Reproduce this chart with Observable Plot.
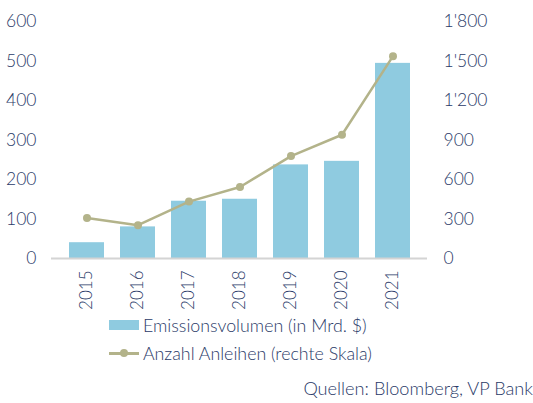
<!DOCTYPE html>
<html>
<head>
<meta charset="utf-8">
<script src="https://cdn.jsdelivr.net/npm/d3@7"></script>
<script src="https://cdn.jsdelivr.net/npm/@observablehq/plot@0.6"></script>
<style>
  html, body { margin: 0; padding: 0; background: #fff; }
  body { width: 533px; height: 403px; overflow: hidden; font-family: Lato, "Open Sans", sans-serif; font-weight: 300; color: #2a3a68; }
  #chart svg { display: block; }
  #chart svg text { font-weight: 300; }
  .legend { position: absolute; left: 109px; top: 311px; font-size: 17.8px; }
  .legend .row { display: flex; align-items: center; height: 28px; }
  .legend .sw { width: 30px; height: 10px; margin-right: 4px; }
  .legend .ln { width: 30px; height: 10px; margin-right: 4px; position: relative; }
  .legend .ln::before { content: ""; position: absolute; left: 0; right: 0; top: 4px; height: 2.5px; background: #b3b38a; }
  .legend .ln::after { content: ""; position: absolute; left: 11px; top: 1px; width: 8px; height: 8px; border-radius: 50%; background: #b3b38a; }
  .source { position: absolute; right: 0; top: 377px; font-size: 18.2px; }
</style>
</head>
<body>
<div id="chart"></div>
<div class="legend">
  <div class="row"><span class="sw" style="background:#8fcbe0"></span>Emissionsvolumen (in Mrd. $)</div>
  <div class="row"><span class="ln"></span>Anzahl Anleihen (rechte Skala)</div>
</div>
<div class="source">Quellen: Bloomberg, VP Bank</div>
<script>
"use strict";
const years = ["2015", "2016", "2017", "2018", "2019", "2020", "2021"];
const volume = [40, 80, 145, 150, 237, 246, 494];      // Mrd. $, left axis
const bonds = [308, 253, 432, 543, 778, 940, 1537];     // count, right axis
const leftTicks = [0, 100, 200, 300, 400, 500, 600];
const rightTicks = [0, 300, 600, 900, 1200, 1500, 1800];

const BAR = "#8fcbe0";
const LINE = "#b3b38a";
const TEXT = "#2a3a68";
const RATIO = 3; // right axis units per left axis unit

const swiss = d3.formatLocale({ decimal: ".", thousands: "'", grouping: [3], currency: ["", ""] }).format(",");

const rows = years.map((y, i) => ({ year: y, volume: volume[i], bonds: bonds[i] }));

const chart = Plot.plot({
  width: 533, height: 312,
  marginTop: 21, marginLeft: 51, marginRight: 106, marginBottom: 54,
  style: { fontFamily: "Lato, 'Open Sans', sans-serif", fontSize: "17.5px", color: TEXT, background: "#fff" },
  x: { domain: years, padding: 0.32, label: null },
  y: { domain: [0, 600], label: null },
  marks: [
    Plot.barY(rows, { x: "year", y: "volume", fill: BAR }),
    Plot.ruleY([0], { stroke: "#d4d4d4", strokeWidth: 2 }),
    Plot.line(rows, { x: "year", y: (d) => d.bonds / RATIO, stroke: LINE, strokeWidth: 2.5 }),
    Plot.dot(rows, { x: "year", y: (d) => d.bonds / RATIO, fill: LINE, r: 4 }),
    Plot.axisX({ tickSize: 0, tickRotate: -90, tickPadding: 12, fontSize: 17, label: null }),
    Plot.axisY({ anchor: "left", ticks: leftTicks, tickSize: 0, tickPadding: 15, label: null }),
    Plot.axisY({ anchor: "right", ticks: rightTicks.map((t) => t / RATIO), tickSize: 0, tickPadding: 16,
      tickFormat: (d) => swiss(Math.round(d * RATIO)), label: null }),
  ],
});
document.getElementById("chart").appendChild(chart);
</script>
</body>
</html>
